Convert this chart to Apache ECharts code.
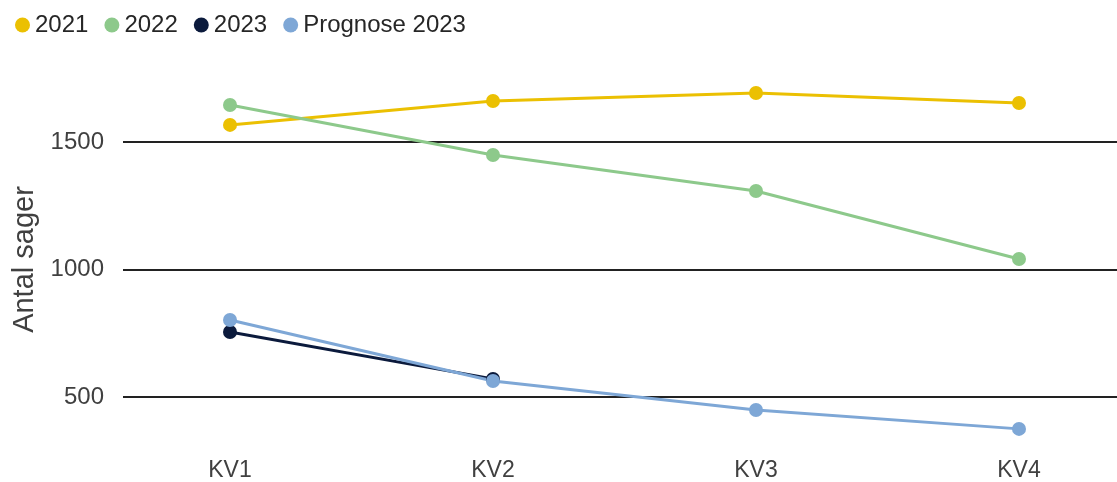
<!DOCTYPE html>
<html>
<head>
<meta charset="utf-8">
<script src="https://cdn.jsdelivr.net/npm/echarts@6/dist/echarts.min.js"></script>
<style>
html,body{margin:0;padding:0;background:#fff;}
#chart{width:1117px;height:482px;}
</style>
</head>
<body>
<div id="chart"></div>
<script>
const categories = ['KV1', 'KV2', 'KV3', 'KV4'];
const s2021 = [1567, 1661, 1692, 1653];
const s2022 = [1645, 1449, 1308, 1041];
const s2023 = [755, 571, null, null];
const prognose2023 = [802, 563, 449, 375];
const yTicks = [500, 1000, 1500];

const chart = echarts.init(document.getElementById('chart'));
const fontFamily = 'Liberation Sans, Arial, sans-serif';
function lineSeries(name, data, color) {
  return {
    name: name, type: 'line', data: data, xAxisIndex: 0, yAxisIndex: 0,
    clip: false, symbol: 'circle', symbolSize: 14, showSymbol: true,
    lineStyle: { width: 3, color: color }, itemStyle: { color: color },
    emphasis: { disabled: true }, connectNulls: false
  };
}
chart.setOption({
  animation: false,
  textStyle: { fontFamily: fontFamily },
  legend: {
    left: 10, top: 8, icon: 'circle', itemWidth: 15, itemHeight: 15, itemGap: 16,
    textStyle: { fontSize: 24, color: '#262626', fontFamily: fontFamily },
    data: ['2021', '2022', '2023', 'Prognose 2023']
  },
  grid: [
    { left: 98.5, width: 1052, top: 142, bottom: 85, outerBoundsMode: 'none', containLabel: false },
    { left: 123, right: 0, top: 142, bottom: 85, outerBoundsMode: 'none', containLabel: false }
  ],
  xAxis: [
    { type: 'category', gridIndex: 0, data: categories, boundaryGap: true,
      axisLine: { show: false }, axisTick: { show: false },
      axisLabel: { margin: 62, fontSize: 23, color: '#404040', fontFamily: fontFamily } },
    { type: 'value', gridIndex: 1, show: false, min: 0, max: 1 }
  ],
  yAxis: [
    { type: 'value', gridIndex: 0, min: yTicks[0], max: yTicks[yTicks.length - 1], show: false },
    { type: 'value', gridIndex: 1, min: yTicks[0], max: yTicks[yTicks.length - 1], interval: 500,
      axisLine: { show: false }, axisTick: { show: false },
      splitLine: { show: true, lineStyle: { color: '#222222', width: 1.8 } },
      axisLabel: { margin: 19, fontSize: 24, color: '#404040', fontFamily: fontFamily,
        formatter: function (v) { return String(v); } },
      name: 'Antal sager', nameLocation: 'middle', nameGap: 84, nameRotate: 90,
      nameTextStyle: { fontSize: 29, color: '#404040', fontFamily: fontFamily, padding: [0, 0, 0, 20] } }
  ],
  series: [
    lineSeries('2021', s2021, '#EBC002'),
    lineSeries('2022', s2022, '#8DC98B'),
    lineSeries('2023', s2023, '#0B1A3C'),
    lineSeries('Prognose 2023', prognose2023, '#7EA7D6')
  ]
});
</script>
</body>
</html>
